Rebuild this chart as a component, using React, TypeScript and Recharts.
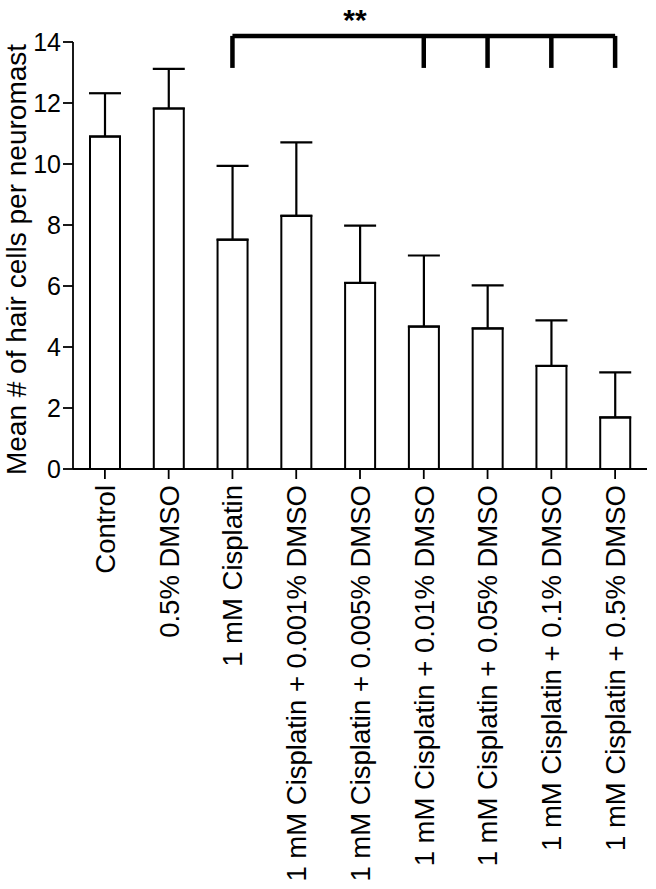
import React from "react";
import {
  BarChart,
  Bar,
  XAxis,
  YAxis,
  ErrorBar,
  ReferenceLine,
  ReferenceDot,
  Label,
} from "recharts";

const categories = [
  "Control",
  "0.5% DMSO",
  "1 mM Cisplatin",
  "1 mM Cisplatin + 0.001% DMSO",
  "1 mM Cisplatin + 0.005% DMSO",
  "1 mM Cisplatin + 0.01% DMSO",
  "1 mM Cisplatin + 0.05% DMSO",
  "1 mM Cisplatin + 0.1% DMSO",
  "1 mM Cisplatin + 0.5% DMSO",
];
const means = [10.9, 11.82, 7.52, 8.3, 6.1, 4.67, 4.61, 3.38, 1.69];
const sems = [1.42, 1.3, 2.42, 2.41, 1.88, 2.33, 1.41, 1.49, 1.48];
const yTicks = [0, 2, 4, 6, 8, 10, 12, 14];
const yLabel = "Mean # of hair cells per neuromast";

const bracketY = 14.2;
const bracketLegBottom = 13.15;
const bracketStart = 2;
const bracketLegs = [2, 5, 6, 7, 8];
const significance = "**";

const data = categories.map((c, i) => ({
  name: c,
  mean: means[i],
  err: [0, sems[i]],
}));

const FONT = "'Liberation Sans', Arial, Helvetica, sans-serif";

const XTick = (props: any) => {
  const { x, y, payload } = props;
  return (
    <g transform={`translate(${x},${y})`}>
      <text
        x={0}
        y={0}
        dy="0.36em"
        transform="rotate(-90)"
        textAnchor="end"
        fontSize={27.5}
        fontFamily={FONT}
        fill="#000"
      >
        {payload.value}
      </text>
    </g>
  );
};

const YLabelContent = (props: any) => {
  const vb = props.viewBox || { x: 0, y: 42, width: 73, height: 427 };
  const cx = vb.x + 16;
  const cy = vb.y + vb.height / 2 + 4;
  return (
    <text
      x={cx}
      y={cy}
      transform={`rotate(-90, ${cx}, ${cy})`}
      textAnchor="middle"
      dominantBaseline="central"
      fontSize={28}
      fontFamily={FONT}
      fill="#000"
    >
      {yLabel}
    </text>
  );
};

export default function App() {
  return (
    <div style={{ position: "absolute", left: 0, top: 0, background: "#fff" }}>
      <BarChart
        width={656}
        height={889}
        data={data}
        margin={{ top: 42, right: 9, left: 0, bottom: 0 }}
        barSize={30}
      >
        <XAxis
          dataKey="name"
          interval={0}
          height={420}
          tickSize={10}
          tickMargin={6}
          tick={<XTick />}
          axisLine={{ stroke: "#000", strokeWidth: 1.8 }}
          tickLine={{ stroke: "#000", strokeWidth: 1.8 }}
        />
        <YAxis
          width={73}
          domain={[0, 14]}
          ticks={yTicks}
          interval={0}
          tickSize={10}
          tickMargin={2}
          tick={{ fontSize: 25, fill: "#000", fontFamily: FONT }}
          axisLine={{ stroke: "#000", strokeWidth: 1.8 }}
          tickLine={{ stroke: "#000", strokeWidth: 1.8 }}
        >
          <Label content={<YLabelContent />} />
        </YAxis>
        <Bar
          dataKey="mean"
          fill="#fff"
          stroke="#000"
          strokeWidth={2}
          isAnimationActive={false}
        >
          <ErrorBar
            dataKey="err"
            direction="y"
            width={16}
            stroke="#000"
            strokeWidth={2.2}
            isAnimationActive={false}
          />
        </Bar>
        <ReferenceLine
          segment={[
            { x: categories[bracketStart], y: bracketY },
            { x: categories[categories.length - 1], y: bracketY },
          ]}
          stroke="#000"
          strokeWidth={4.5}
          ifOverflow="visible"
        />
        {bracketLegs.map((i) => (
          <ReferenceLine
            key={i}
            segment={[
              { x: categories[i], y: bracketY },
              { x: categories[i], y: bracketLegBottom },
            ]}
            stroke="#000"
            strokeWidth={4.5}
            ifOverflow="visible"
          />
        ))}
        <ReferenceDot
          x={categories[4]}
          y={bracketY}
          r={0}
          ifOverflow="visible"
          shape={(p: any) => (
            <text
              x={p.cx - 5}
              y={p.cy - 6}
              textAnchor="middle"
              fontSize={30}
              fontWeight="bold"
              fontFamily={FONT}
              fill="#000"
            >
              {significance}
            </text>
          )}
        />
      </BarChart>
    </div>
  );
}
